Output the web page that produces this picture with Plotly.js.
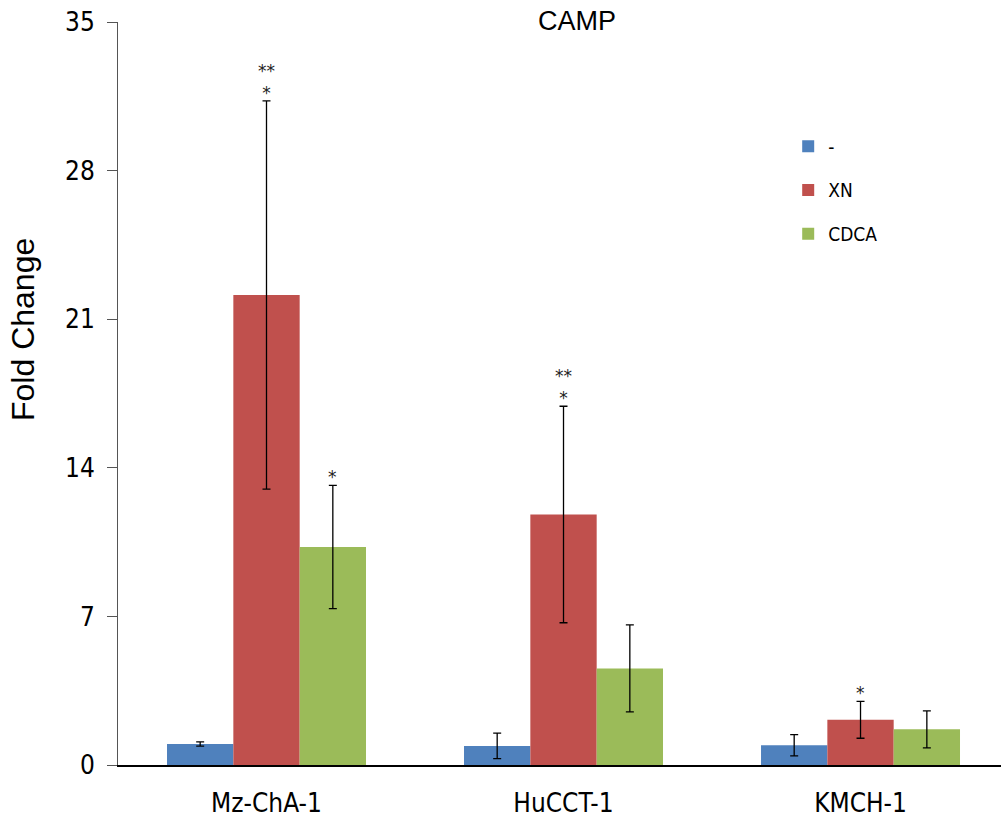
<!DOCTYPE html>
<html>
<head>
<meta charset="utf-8">
<script src="https://cdn.plot.ly/plotly-3.0.1.min.js"></script>
<style>html,body{margin:0;padding:0;background:#fff;}#chart{width:1001px;height:831px;}</style>
</head>
<body>
<div id="chart"></div>
<script>
// ---- data ----
const categories = ["Mz-ChA-1", "HuCCT-1", "KMCH-1"];
const seriesNames = ["-", "XN", "CDCA"];
const ctrlValues = [0.99, 0.9, 0.93];
const ctrlErrors = [0.1, 0.6, 0.5];
const xnValues = [22.14, 11.8, 2.13];
const xnErrors = [9.14, 5.1, 0.87];
const cdcaValues = [10.27, 4.55, 1.68];
const cdcaErrors = [2.9, 2.05, 0.87];
const yTicks = [0, 7, 14, 21, 28, 35];
const yTitle = "Fold Change";
// significance marks: [categoryIndex, seriesIndex, text]
const sigMarks = [
  [0, 1, "**<br>*"],
  [0, 2, "*"],
  [1, 1, "**<br>*"],
  [2, 1, "*"]
];

const colors = ["#4F81BD", "#C0504D", "#9BBB59"];
const valuesAll = [ctrlValues, xnValues, cdcaValues];
const errorsAll = [ctrlErrors, xnErrors, cdcaErrors];
const narrowFont = "'Liberation Sans Narrow', 'DejaVu Sans Condensed', sans-serif";

const traces = seriesNames.map((name, i) => ({
  type: "bar",
  name: name,
  x: categories,
  y: valuesAll[i],
  legendgroup: "g" + i,
  marker: {color: colors[i], line: {width: 0}},
  error_y: {type: "data", array: errorsAll[i], visible: true, color: "#000", thickness: 1.3, width: 4}
}));

const barStep = (1 - 0.33) / 3;
const annotations = sigMarks.map(([c, s, txt]) => ({
  xref: "x", yref: "y",
  x: c + (s - 1) * barStep,
  y: valuesAll[s][c] + errorsAll[s][c],
  text: txt,
  showarrow: false,
  yanchor: "bottom",
  yshift: -4,
  font: {family: "DejaVu Sans, sans-serif", size: 17, color: "#222"}
}));
annotations.push({
  xref: "paper", yref: "paper",
  x: (23 - 118) / 883, y: (765 - 330) / 743,
  xanchor: "center", yanchor: "middle",
  text: yTitle, textangle: -90, showarrow: false,
  font: {family: "Liberation Sans, Arial, sans-serif", size: 32, color: "#000"}
});

const layout = {
  width: 1001, height: 831,
  margin: {l: 118, r: 0, t: 22, b: 66},
  paper_bgcolor: "#fff", plot_bgcolor: "#fff",
  barmode: "group", bargap: 0.33, bargroupgap: 0,
  title: {text: "CAMP", x: 577 / 1001, xref: "container", xanchor: "center",
          y: 1 - 21 / 831, yref: "container", yanchor: "middle",
          font: {family: "Liberation Sans, Arial, sans-serif", size: 27, color: "#000"}},
  xaxis: {
    type: "category", range: [-0.5, 2.473],
    showline: true, linecolor: "#000", linewidth: 2,
    ticks: "", showgrid: false, zeroline: false,
    ticklabelstandoff: 14,
    tickfont: {family: narrowFont, size: 26, color: "#000"},
    automargin: false
  },
  yaxis: {
    range: [0, 35], tickvals: yTicks, ticktext: yTicks.map(String),
    showline: true, linecolor: "#555", linewidth: 1,
    ticks: "outside", ticklen: 10, tickcolor: "#555",
    ticklabelstandoff: 7,
    showgrid: false, zeroline: false,
    tickfont: {family: narrowFont, size: 26, color: "#000"},
    automargin: false
  },
  legend: {
    x: 0.759, y: 0.858, xanchor: "left", yanchor: "top",
    font: {family: narrowFont, size: 19, color: "#000"},
    tracegroupgap: 16, traceorder: "grouped",
    bgcolor: "rgba(0,0,0,0)", borderwidth: 0
  },
  showlegend: true,
  annotations: annotations
};

Plotly.newPlot("chart", traces, layout, {displayModeBar: false, staticPlot: true});
</script>
</body>
</html>
